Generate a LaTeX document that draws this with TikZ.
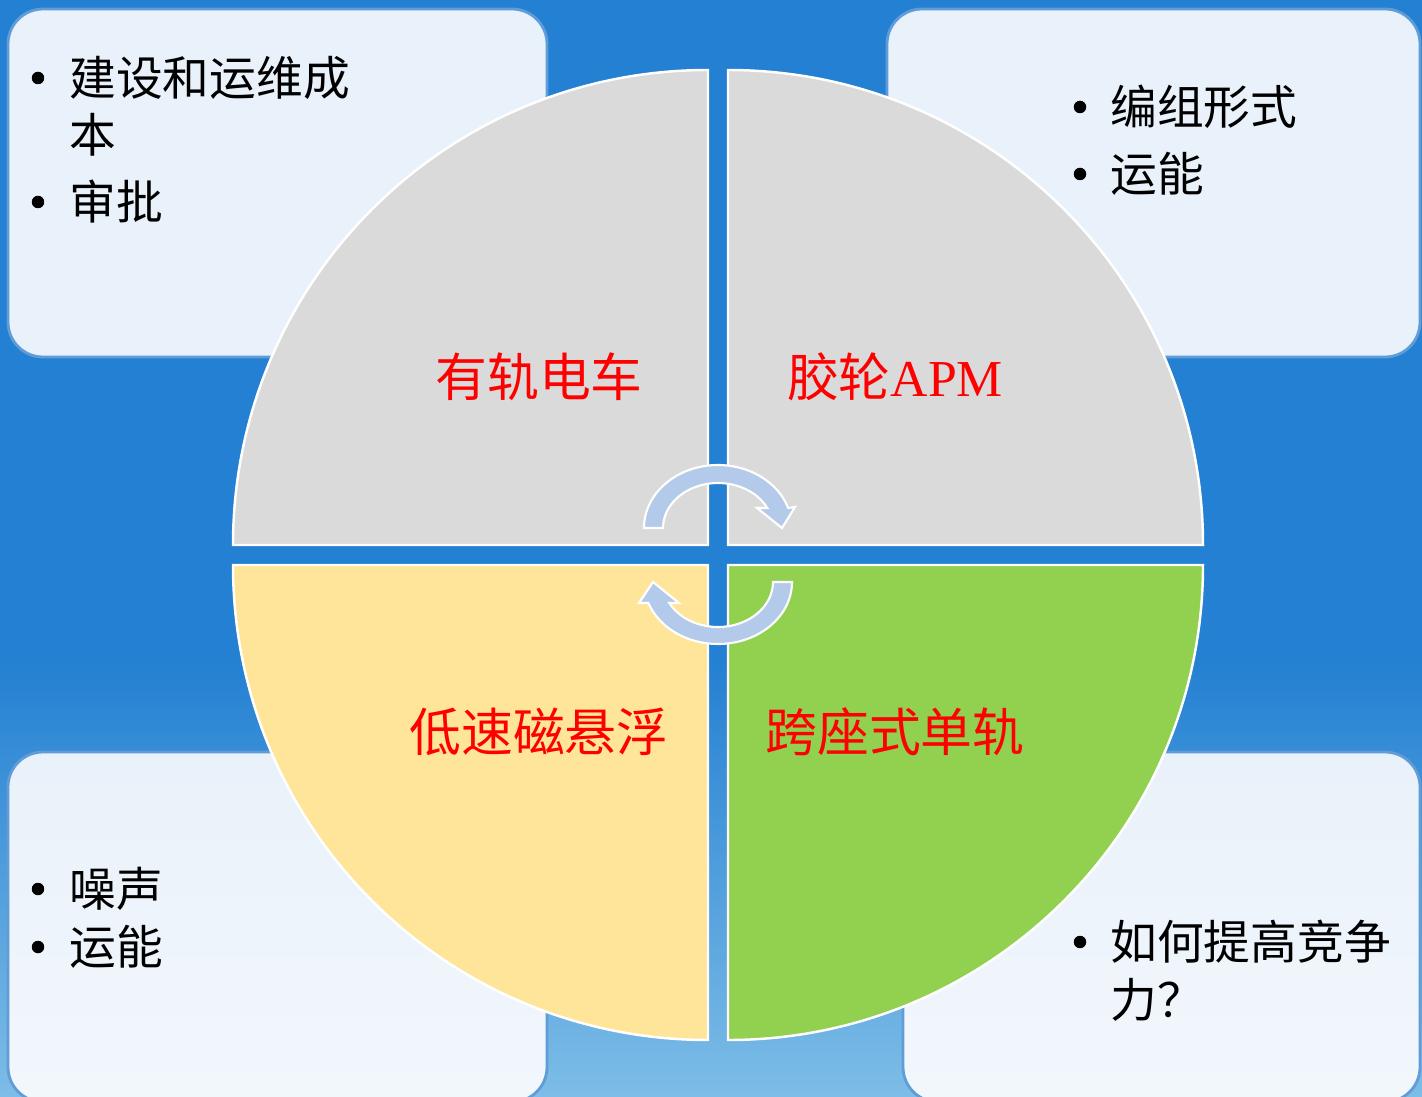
\documentclass[tikz,border=0pt]{standalone}
\usepackage{fontspec}
\setmainfont{Liberation Serif}
\newfontfamily\cjk{Noto Sans CJK SC}
\definecolor{bgblue}{RGB}{36,128,210}
\definecolor{bglight}{RGB}{125,189,231}
\definecolor{boxfill}{RGB}{233,241,250}
\definecolor{boxfilltwo}{RGB}{242,247,252}
\definecolor{boxline}{RGB}{96,156,216}
\definecolor{quadgray}{RGB}{218,218,218}
\definecolor{quadyellow}{RGB}{255,229,153}
\definecolor{quadgreen}{RGB}{146,208,80}
\definecolor{arrowblue}{RGB}{180,202,234}
\tikzset{
 infobox/.style={draw=boxline, line width=1.6pt, rounded corners=0.7cm},
 quad/.style={draw=white, line width=1.4pt},
 cyc/.style={fill=arrowblue, draw=white, line width=1.2pt, line join=miter},
 qlabel/.style={text=red, font=\fontsize{29.5}{34}\selectfont\cjk, inner sep=0},
 item/.style={font=\fontsize{26.6}{32}\selectfont\cjk, anchor=west, inner sep=0, text=black},
 dot/.style={circle, fill=black, inner sep=0, minimum size=0.25cm}
}
\begin{document}
\begin{tikzpicture}[x=0.02cm,y=-0.02cm]
\useasboundingbox (0,0) rectangle (1422,1097);
% background
\fill[bgblue] (0,0) rectangle (1422,661);
\shade[top color=bgblue, bottom color=bglight] (0,660) rectangle (1422,1097);
% info boxes
\path[infobox, fill=boxfill] (8,9) rectangle (547,357);
\path[infobox, fill=boxfill] (887,9) rectangle (1420,357);
\path[infobox, top color=boxfill, bottom color=boxfilltwo] (8,752) rectangle (547,1102);
\path[infobox, top color=boxfill, bottom color=boxfilltwo] (903,752) rectangle (1420,1102);
% quadrants
\path[quad, fill=quadgray] (708,545) -- (233,545) arc[start angle=180, end angle=270, radius=475] -- cycle;
\path[quad, fill=quadgray] (728,545) -- (728,70) arc[start angle=270, end angle=360, radius=475] -- cycle;
\path[quad, fill=quadgreen] (728,565) -- (1203,565) arc[start angle=0, end angle=90, radius=475] -- cycle;
\path[quad, fill=quadyellow] (708,565) -- (708,1040) arc[start angle=90, end angle=180, radius=475] -- cycle;
% circular arrows
\path[cyc] (644,528) arc[start angle=180, end angle=341.5, x radius=74, y radius=63]
  -- (795,507) -- (782,528) -- (757,508) -- (767.3,508)
  arc[start angle=333.6, end angle=180, x radius=55, y radius=45] -- cycle;
\path[cyc] (792,582) arc[start angle=0, end angle=160.2, x radius=74, y radius=62]
  -- (639,603) -- (653,582) -- (679,603) -- (669.3,603)
  arc[start angle=152.2, end angle=0, x radius=55, y radius=45] -- cycle;
% quadrant labels
\node[qlabel] (tram) at (539,377) {有轨电车};
\node[qlabel] (apm) at (895,377) {胶轮{\rmfamily APM}};
\node[qlabel] (maglev) at (539,732) {低速磁悬浮};
\node[qlabel] (mono) at (895,732) {跨座式单轨};
% top-left items
\node[dot] (tlb1) at (38,78) {};
\node[item] (tl1a) at (69,78) {建设和运维成};
\node[item] (tl1b) at (69,135) {本};
\node[dot] (tlb2) at (38,202) {};
\node[item] (tl2) at (69,202) {审批};
% top-right items
\node[dot] (trb1) at (1080,107) {};
\node[item] (tr1) at (1110,107) {编组形式};
\node[dot] (trb2) at (1080,174) {};
\node[item] (tr2) at (1110,174) {运能};
% bottom-left items
\node[dot] (blb1) at (38,889) {};
\node[item] (bl1) at (69,889) {噪声};
\node[dot] (blb2) at (38,947) {};
\node[item] (bl2) at (69,947) {运能};
% bottom-right items
\node[dot] (brb1) at (1080,942) {};
\node[item] (br1a) at (1110,942) {如何提高竞争};
\node[item] (br1b) at (1110,1000) {力？};
\end{tikzpicture}
\end{document}
